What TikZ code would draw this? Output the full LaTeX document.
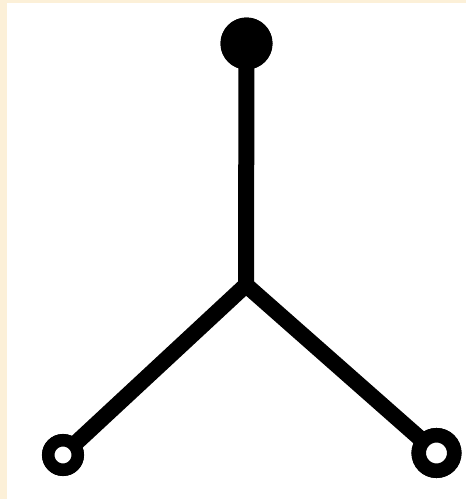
\documentclass[tikz,border=0pt]{standalone}
\definecolor{cream}{RGB}{252,240,216}
\tikzset{
  bar/.style={line width=16pt, black},
  dot/.style={circle, fill=black, inner sep=0pt, minimum size=52pt},
  ring/.style={circle, draw=black, fill=white, inner sep=0pt}
}
\begin{document}
\begin{tikzpicture}[x=1pt,y=-1pt]
  \useasboundingbox (0,0) rectangle (466,499);
  \fill[cream] (0,0) rectangle (466,499);
  \fill[white] (7,3) rectangle (466,499);
  \node[dot] (top) at (246.5,43.5) {};
  \coordinate (j) at (246,285);
  \node[ring, line width=12.5pt, minimum size=29.5pt] (lft) at (63,455) {};
  \node[ring, line width=14.5pt, minimum size=35.5pt] (rgt) at (436.5,453) {};
  \draw[bar] (top.center) -- (j);
  \draw[bar, line join=miter] (lft.center) -- (j) -- (rgt.center);
  \node[dot] at (top) {};
  \node[ring, line width=12.5pt, minimum size=29.5pt] at (lft) {};
  \node[ring, line width=14.5pt, minimum size=35.5pt] at (rgt) {};
\end{tikzpicture}
\end{document}
